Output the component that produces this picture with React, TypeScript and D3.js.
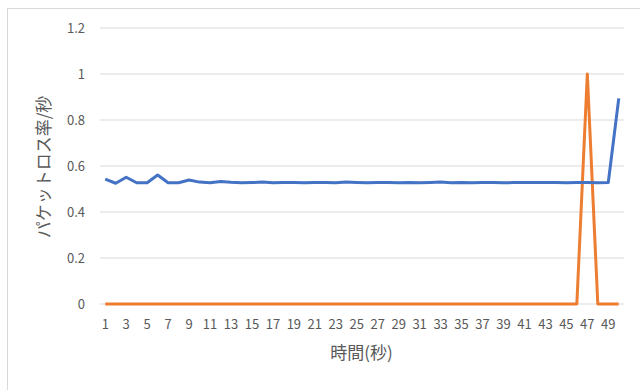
import React from "react";
import * as d3 from "d3";

const categories: number[] = Array.from({ length: 50 }, (_, i) => i + 1);
const blueSeries: number[] = [
  0.543, 0.525, 0.551, 0.527, 0.527, 0.561, 0.527, 0.527, 0.539, 0.53,
  0.527, 0.533, 0.529, 0.527, 0.528, 0.53, 0.527, 0.528, 0.528, 0.527,
  0.528, 0.528, 0.527, 0.53, 0.528, 0.527, 0.528, 0.528, 0.527, 0.528,
  0.527, 0.528, 0.53, 0.527, 0.528, 0.527, 0.528, 0.528, 0.527, 0.528,
  0.528, 0.528, 0.528, 0.528, 0.527, 0.528, 0.528, 0.527, 0.528, 0.894,
];
const orangeSeries: number[] = [
  0, 0, 0, 0, 0, 0, 0, 0, 0, 0,
  0, 0, 0, 0, 0, 0, 0, 0, 0, 0,
  0, 0, 0, 0, 0, 0, 0, 0, 0, 0,
  0, 0, 0, 0, 0, 0, 0, 0, 0, 0,
  0, 0, 0, 0, 0, 0, 1, 0, 0, 0,
];
const yTicks: number[] = [0, 0.2, 0.4, 0.6, 0.8, 1, 1.2];
const yTitle = "パケットロス率/秒";
const xTitle = "時間(秒)";

export default function App() {
  const W = 640, H = 390;
  const left = 100, right = 624, top = 28, bottom = 304;
  const x = d3.scaleBand<number>().domain(categories).range([left, right]);
  const y = d3.scaleLinear().domain([0, 1.2]).range([bottom, top]);
  const cx = (c: number) => (x(c) as number) + x.bandwidth() / 2;
  const line = d3
    .line<number>()
    .x((_, i) => cx(categories[i]))
    .y((d) => y(d));
  const font = "'Noto Sans CJK JP', 'Noto Sans', sans-serif";
  const textColor = "#595959";
  return (
    <svg
      width={W}
      height={H}
      style={{ position: "absolute", left: 0, top: 0, background: "#fff" }}
      fontFamily={font}
    >
      <rect x={7.5} y={8.5} width={700} height={500} fill="#fff" stroke="#d9d9d9" />
      {yTicks.map((t) => (
        <g key={t}>
          <line x1={left} x2={right} y1={y(t)} y2={y(t)} stroke="#d9d9d9" strokeWidth={1} />
          <text x={85} y={y(t)} dy="0.35em" textAnchor="end" fontSize={13} fill={textColor}>
            {d3.format("~g")(t)}
          </text>
        </g>
      ))}
      {categories
        .filter((c) => c % 2 === 1)
        .map((c) => (
          <text key={c} x={cx(c)} y={329} textAnchor="middle" fontSize={13} fill={textColor}>
            {c}
          </text>
        ))}
      <path d={line(orangeSeries) || ""} fill="none" stroke="#ED7D31" strokeWidth={3} strokeLinejoin="round" />
      <path d={line(blueSeries) || ""} fill="none" stroke="#4472C4" strokeWidth={3} strokeLinejoin="round" />
      <text
        transform={`translate(50,167) rotate(-90)`}
        textAnchor="middle"
        fontSize={17}
        fill={textColor}
      >
        {yTitle}
      </text>
      <text x={361.5} y={359} textAnchor="middle" fontSize={17} fill={textColor}>
        {xTitle}
      </text>
    </svg>
  );
}
